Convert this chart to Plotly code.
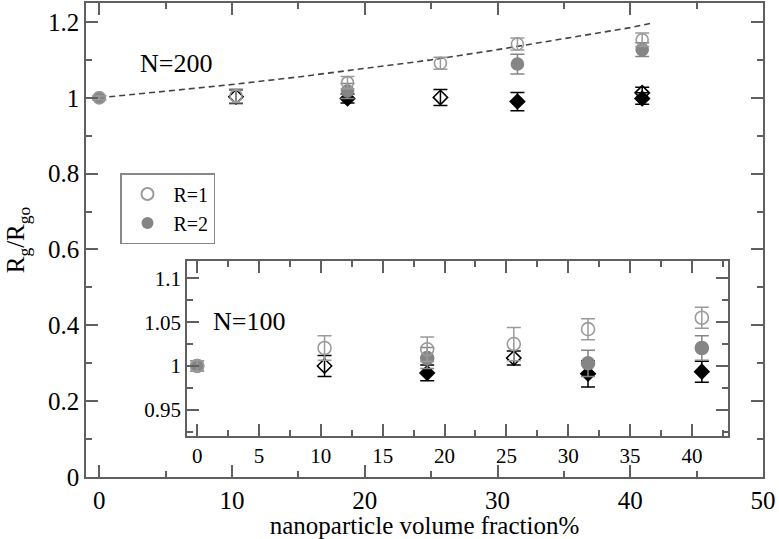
import plotly.graph_objects as go

# ---------------- data ----------------
# Main panel, N=200
main_x_r1 = [0, 10.3, 18.7, 25.7, 31.5, 40.9]
main_y_r1 = [1.0, 1.005, 1.04, 1.091, 1.142, 1.153]
main_e_r1 = [0.005, 0.018, 0.016, 0.016, 0.016, 0.018]

main_x_r2 = [0, 18.7, 31.5, 40.9]
main_y_r2 = [1.0, 1.018, 1.089, 1.127]
main_e_r2 = [0.005, 0.02, 0.026, 0.018]

main_x_dopen = [10.3, 25.7, 40.9]
main_y_dopen = [1.003, 1.001, 1.013]
main_e_dopen = [0.018, 0.021, 0.015]

main_x_dfill = [18.7, 31.5, 40.9]
main_y_dfill = [0.998, 0.99, 0.998]
main_e_dfill = [0.012, 0.024, 0.015]

# dashed reference curve
curve_x = [0, 5, 10, 15, 20, 25, 30, 35, 40, 41.6]
curve_y = [1.0, 1.017, 1.035, 1.055, 1.077, 1.10, 1.127, 1.155, 1.185, 1.197]

# Inset panel, N=100
ins_x_r1 = [0, 10.3, 18.6, 25.6, 31.6, 40.8]
ins_y_r1 = [1.0, 1.0205, 1.019, 1.025, 1.042, 1.055]
ins_e_r1 = [0.006, 0.014, 0.014, 0.019, 0.012, 0.012]

ins_x_r2 = [0, 18.6, 31.6, 40.8]
ins_y_r2 = [1.0, 1.009, 1.003, 1.0205]
ins_e_r2 = [0.006, 0.012, 0.015, 0.014]

ins_x_dopen = [10.3, 25.6]
ins_y_dopen = [1.0, 1.009]
ins_e_dopen = [0.012, 0.008]

ins_x_dfill = [18.6, 31.6, 40.8]
ins_y_dfill = [0.992, 0.991, 0.9935]
ins_e_dfill = [0.009, 0.015, 0.012]

# ---------------- styles ----------------
FONT = "Liberation Serif, DejaVu Serif, serif"
C_OPEN = "#9a9a9a"
C_FILL = "#858585"
C_DIAM = "#000000"
AX = "#606060"

fig = go.Figure()

def add_series(x, y, e, symbol, color, name, showlegend, xa, ya, size=12):
    fig.add_trace(go.Scatter(
        x=x, y=y, mode="markers", name=name, showlegend=showlegend,
        xaxis=xa, yaxis=ya,
        marker=dict(symbol=symbol, size=size, color=color,
                    line=dict(width=1.6, color=color)),
        error_y=dict(type="data", array=e, color=color, thickness=1.5, width=7),
    ))

# main
fig.add_trace(go.Scatter(x=curve_x, y=curve_y, mode="lines", showlegend=False,
                         line=dict(color="#444444", width=1.6, dash="6px,4px"),
                         xaxis="x", yaxis="y"))
add_series(main_x_dopen, main_y_dopen, main_e_dopen, "diamond-open", C_DIAM, "d1", False, "x", "y", 11)
add_series(main_x_dfill, main_y_dfill, main_e_dfill, "diamond", C_DIAM, "d2", False, "x", "y", 11)
add_series(main_x_r2, main_y_r2, main_e_r2, "circle", C_FILL, "R=2", False, "x", "y")
add_series(main_x_r1, main_y_r1, main_e_r1, "circle-open", C_OPEN, "R=1", False, "x", "y")
# legend entries (order R=1, R=2)
fig.add_trace(go.Scatter(x=[None], y=[None], mode="markers", name="R=1",
                         marker=dict(symbol="circle-open", size=12, color=C_OPEN, line=dict(width=1.6, color=C_OPEN)),
                         xaxis="x", yaxis="y"))
fig.add_trace(go.Scatter(x=[None], y=[None], mode="markers", name="R=2",
                         marker=dict(symbol="circle", size=12, color=C_FILL),
                         xaxis="x", yaxis="y"))

# inset
add_series(ins_x_dopen, ins_y_dopen, ins_e_dopen, "diamond-open", C_DIAM, "d1", False, "x2", "y2", 11)
add_series(ins_x_dfill, ins_y_dfill, ins_e_dfill, "diamond", C_DIAM, "d2", False, "x2", "y2", 11)
add_series(ins_x_r2, ins_y_r2, ins_e_r2, "circle", C_FILL, "R=2", False, "x2", "y2", 13)
add_series(ins_x_r1, ins_y_r1, ins_e_r1, "circle-open", C_OPEN, "R=1", False, "x2", "y2", 13)

axis_common = dict(showgrid=False, zeroline=False, showline=True, linecolor=AX, linewidth=1.5,
                   mirror="ticks", ticks="inside", tickcolor=AX, tickwidth=1.5, automargin=False,
                   tickfont=dict(family=FONT, size=25, color="black"))
inset_font = dict(family=FONT, size=21, color="black")

fig.update_layout(
    width=779, height=539,
    margin=dict(l=86, r=16, t=3, b=62, autoexpand=False),
    paper_bgcolor="white", plot_bgcolor="white",
    font=dict(family=FONT, color="black"),
    xaxis=dict(**axis_common, range=[-1, 50], dtick=10, tick0=0, ticklen=12,
               minor=dict(dtick=5, ticklen=6, ticks="inside", tickcolor=AX, tickwidth=1.5),
               title=dict(text="nanoparticle volume fraction%", font=dict(family=FONT, size=25), standoff=0)),
    yaxis=dict(**axis_common, range=[0, 1.25], dtick=0.2, tick0=0, ticklen=12,
               minor=dict(dtick=0.1, ticklen=6, ticks="inside", tickcolor=AX, tickwidth=1.5),
               title=dict(text="R<sub>g</sub>/R<sub>go</sub>", font=dict(family=FONT, size=25), standoff=16)),
    xaxis2=dict(**{**axis_common, "tickfont": inset_font},
                domain=[0.149, 0.948], anchor="y2", range=[-0.83, 42.9], dtick=5, tick0=0, ticklen=12,
                minor=dict(dtick=2.5, ticklen=6, ticks="inside", tickcolor=AX, tickwidth=1.5)),
    yaxis2=dict(**{**axis_common, "tickfont": inset_font},
                domain=[0.0865, 0.456], anchor="x2", range=[0.92, 1.12], dtick=0.05, tick0=0.95, ticklen=12,
                minor=dict(dtick=0.025, ticklen=6, ticks="inside", tickcolor=AX, tickwidth=1.5)),
    legend=dict(x=(120 - 86) / 677, y=(477 - 173) / 474, xanchor="left", yanchor="top",
                bordercolor="#888888", borderwidth=1.5, bgcolor="white", itemwidth=42,
                font=dict(family=FONT, size=20), tracegroupgap=0, itemsizing="constant"),
    annotations=[
        dict(text="N=200", xref="paper", yref="paper", x=(176 - 86) / 677, y=(477 - 63) / 474,
             xanchor="center", yanchor="middle",
             showarrow=False, font=dict(family=FONT, size=26, color="black")),
        dict(text="N=100", xref="paper", yref="paper", x=(249 - 86) / 677, y=(477 - 321) / 474,
             xanchor="center", yanchor="middle",
             showarrow=False, font=dict(family=FONT, size=26, color="black")),
    ],
)

fig.write_html("out.html", config={"displayModeBar": False},
               post_script="document.body.style.margin='0';document.body.style.padding='0';")
